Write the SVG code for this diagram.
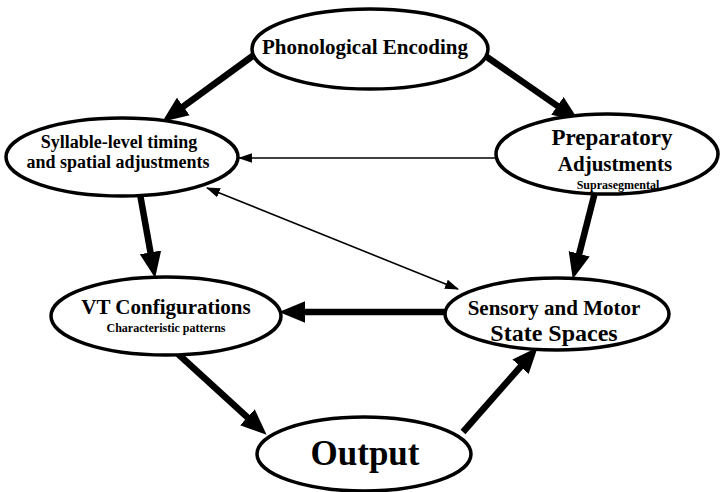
<svg xmlns="http://www.w3.org/2000/svg" width="720" height="492" viewBox="0 0 720 492">
<defs>
<marker id="thick" markerUnits="userSpaceOnUse" markerWidth="26" markerHeight="22" viewBox="0 0 24 20" refX="12" refY="10" orient="auto"><path d="M0,0 L24,10 L0,20 Z" fill="#000"/></marker>
<marker id="thin" markerUnits="userSpaceOnUse" markerWidth="14" markerHeight="10" viewBox="0 0 13 9" refX="12" refY="4.5" orient="auto-start-reverse"><path d="M0,0 L13,4.5 L0,9 Z" fill="#000"/></marker>
<style>
.n ellipse{fill:#fff;stroke:#000;stroke-width:3.5}
.t{font-family:"Liberation Serif","Times New Roman",serif;font-weight:bold;fill:#000;text-anchor:middle}
.k{stroke:#000;stroke-width:6.5;fill:none}
.h{stroke:#000;stroke-width:1.6;fill:none}
</style>
</defs>
<rect width="720" height="492" fill="#fff"/>
<g id="connectors">
<line class="k" x1="254" y1="55" x2="172.8" y2="114.1" marker-end="url(#thick)"/>
<line class="k" x1="484" y1="55" x2="568.1" y2="113.3" marker-end="url(#thick)"/>
<line class="h" x1="497" y1="158" x2="239" y2="158" marker-end="url(#thin)"/>
<line class="h" x1="207" y1="188" x2="458" y2="289" marker-start="url(#thin)" marker-end="url(#thin)"/>
<line class="k" x1="140" y1="194" x2="152.8" y2="265.2" marker-end="url(#thick)"/>
<line class="k" x1="595" y1="192" x2="576" y2="266.4" marker-end="url(#thick)"/>
<line class="k" x1="447" y1="312" x2="292" y2="312" marker-end="url(#thick)"/>
<line class="k" x1="177" y1="353" x2="257" y2="426" marker-end="url(#thick)"/>
<line class="k" x1="463" y1="432" x2="529.1" y2="357" marker-end="url(#thick)"/>
</g>
<g id="phonological" class="n">
<ellipse cx="370" cy="49" rx="118" ry="40"/>
<text class="t" x="365" y="54" font-size="21">Phonological Encoding</text>
</g>
<g id="syllable" class="n">
<ellipse cx="122" cy="157" rx="116" ry="39"/>
<text class="t" x="119" y="148" font-size="18">Syllable-level timing</text>
<text class="t" x="118" y="168" font-size="18">and spatial adjustments</text>
</g>
<g id="preparatory" class="n">
<ellipse cx="607" cy="154" rx="111" ry="40"/>
<text class="t" x="612" y="145" font-size="23">Preparatory</text>
<text class="t" x="615" y="171" font-size="21">Adjustments</text>
<text class="t" x="618" y="189" font-size="12">Suprasegmental</text>
</g>
<g id="vt" class="n">
<ellipse cx="166" cy="316" rx="115" ry="39"/>
<text class="t" x="166" y="314" font-size="21">VT Configurations</text>
<text class="t" x="166" y="332" font-size="12">Characteristic patterns</text>
</g>
<g id="sensory" class="n">
<ellipse cx="557" cy="314" rx="112" ry="36"/>
<text class="t" x="554" y="315" font-size="21">Sensory and Motor</text>
<text class="t" x="554" y="341" font-size="24">State Spaces</text>
</g>
<g id="output" class="n">
<ellipse cx="364" cy="454" rx="107" ry="37"/>
<text class="t" x="365" y="465" font-size="35">Output</text>
</g>
</svg>
